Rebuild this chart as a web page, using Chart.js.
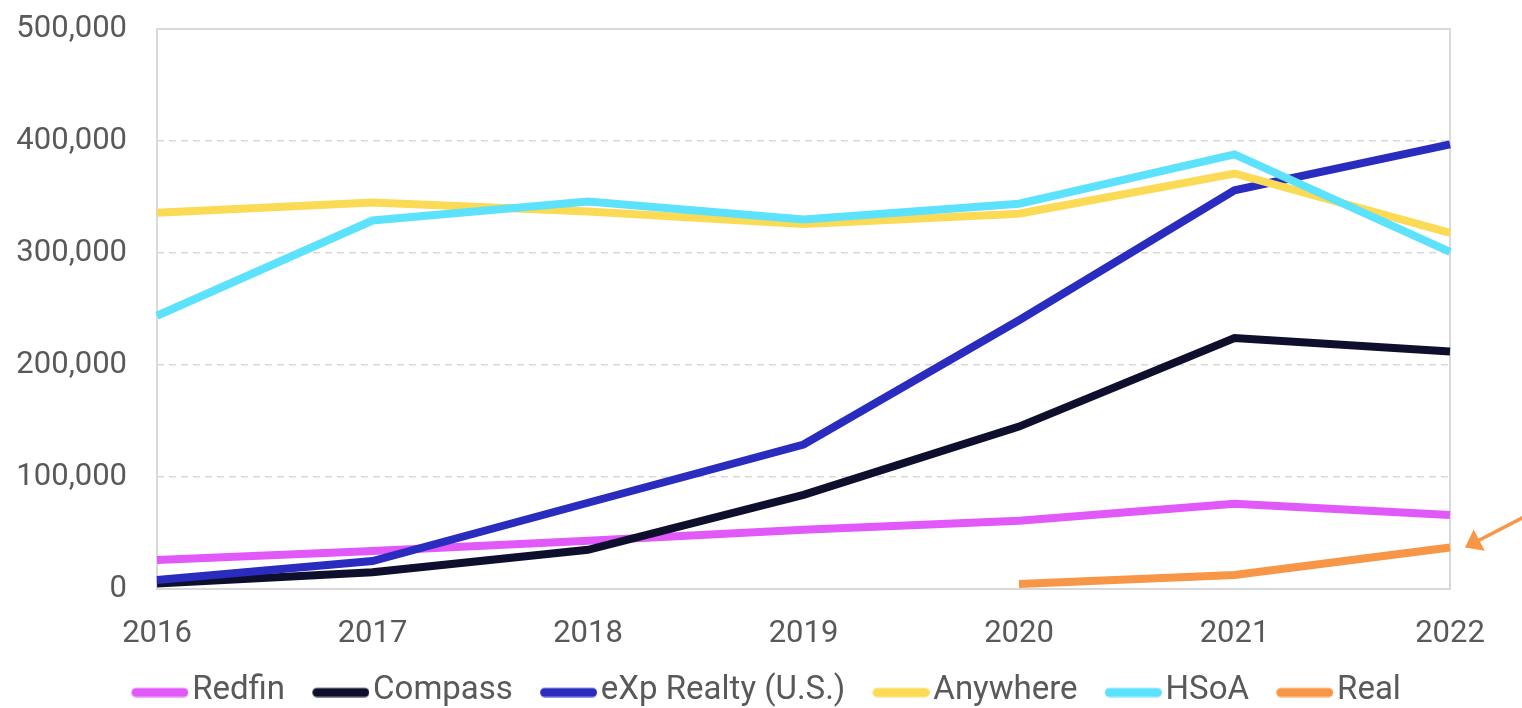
<!DOCTYPE html>
<html>
<head>
<meta charset="utf-8">
<script src="https://cdn.jsdelivr.net/npm/chart.js@4/dist/chart.umd.min.js"></script>
<style>
  html, body { margin: 0; padding: 0; background: #fff; }
  #wrap { width: 1522px; height: 708px; }
</style>
</head>
<body>
<div id="wrap"><canvas id="myChart" width="1522" height="708"></canvas></div>
<script>
'use strict';

const years = ['2016', '2017', '2018', '2019', '2020', '2021', '2022'];
const redfin = [26000, 34000, 43000, 53000, 61000, 76000, 66000];
const compass = [5000, 15000, 35000, 84000, 145000, 224000, 212000];
const exp = [8000, 25000, 77000, 129000, 240000, 356000, 397000];
const anywhere = [336000, 345000, 337000, 326000, 335000, 371000, 318000];
const hsoa = [244000, 329000, 346000, 330000, 344000, 388000, 301000];
const real = [null, null, null, null, 4500, 12500, 37000];
const yTicks = [0, 100000, 200000, 300000, 400000, 500000];

const textColor = '#595959';
const gridColor = '#d9d9d9';

function series(label, data, color, order) {
  return {
    label: label,
    data: data,
    borderColor: color,
    backgroundColor: color,
    borderWidth: 8,
    pointRadius: 0,
    tension: 0,
    fill: false,
    order: order
  };
}

// little rounded bar used as the legend key
function legendKey(color) {
  const cv = document.createElement('canvas');
  cv.width = 70;
  cv.height = 14;
  const c = cv.getContext('2d');
  c.strokeStyle = color;
  c.lineWidth = 9;
  c.lineCap = 'round';
  c.beginPath();
  c.moveTo(17.5, 9);
  c.lineTo(65.5, 9);
  c.stroke();
  return cv;
}

// plot frame around the chart area
const frame = {
  id: 'frame',
  beforeDatasetsDraw(chart) {
    const a = chart.chartArea;
    const c = chart.ctx;
    c.save();
    c.strokeStyle = gridColor;
    c.lineWidth = 2;
    c.setLineDash([]);
    c.strokeRect(a.left, a.top, a.right - a.left, a.bottom - a.top);
    c.restore();
  }
};

// orange arrow pointing at the end of the Real line
const arrow = {
  id: 'arrow',
  afterDraw(chart) {
    const x = chart.scales.x;
    const y = chart.scales.y;
    const last = real.length - 1;
    const tipX = x.getPixelForValue(last) + 15;
    const tipY = y.getPixelForValue(real[last]);
    const dx = 58, dy = -30;
    const len = Math.sqrt(dx * dx + dy * dy);
    const ux = dx / len, uy = dy / len;
    const c = chart.ctx;
    c.save();
    c.strokeStyle = '#f79646';
    c.fillStyle = '#f79646';
    c.lineWidth = 3.5;
    c.beginPath();
    c.moveTo(tipX + ux * 12, tipY + uy * 12);
    c.lineTo(tipX + dx * 1.2, tipY + dy * 1.2);
    c.stroke();
    const bx = tipX + ux * 16, by = tipY + uy * 16;
    c.beginPath();
    c.moveTo(tipX, tipY);
    c.lineTo(bx - uy * 12, by + ux * 12);
    c.lineTo(bx + uy * 12, by - ux * 12);
    c.closePath();
    c.fill();
    c.restore();
  }
};

// nudge the legend row to the right
const legendShift = {
  id: 'legendShift',
  afterLayout(chart) {
    chart.legend.left += 41;
    chart.legend.right += 41;
  }
};

const ctx = document.getElementById('myChart').getContext('2d');

const myChart = new Chart(ctx, {
  type: 'line',
  data: {
    labels: years,
    datasets: [
      series('Redfin', redfin, '#e159f9', 6),
      series('Compass', compass, '#0e0f2c', 5),
      series('eXp Realty (U.S.)', exp, '#2a2bbf', 4),
      series('Anywhere', anywhere, '#fbda55', 3),
      series('HSoA', hsoa, '#5ce2fc', 2),
      series('Real', real, '#f79646', 1)
    ]
  },
  options: {
    responsive: false,
    animation: false,
    layout: { padding: { top: 29, right: 72, bottom: 0, left: 0 } },
    plugins: {
      tooltip: { enabled: false },
      legend: {
        position: 'bottom',
        maxHeight: 61,
        labels: {
          color: textColor,
          font: { family: 'Roboto', size: 33 },
          usePointStyle: true,
          pointStyleWidth: 44.5,
          padding: 27,
          sort: (a, b) => a.datasetIndex - b.datasetIndex,
          generateLabels: chart => Chart.defaults.plugins.legend.labels.generateLabels(chart)
            .map(l => Object.assign(l, { pointStyle: legendKey(l.strokeStyle), lineWidth: 0 }))
        }
      }
    },
    scales: {
      x: {
        offset: false,
        grid: { display: false },
        border: { display: false },
        ticks: {
          color: textColor,
          font: { family: 'Roboto', size: 31 },
          padding: 19,
          maxRotation: 0
        },
        afterFit: s => {
          s.height = 58;
          s.paddingLeft = 0;
          s.paddingRight = 0;
        }
      },
      y: {
        min: 0,
        max: 500000,
        afterBuildTicks: s => { s.ticks = yTicks.map(v => ({ value: v })); },
        grid: {
          color: gridColor,
          lineWidth: 1.5,
          drawTicks: false
        },
        border: { display: false, dash: [7, 5] },
        ticks: {
          color: textColor,
          font: { family: 'Roboto', size: 31 },
          padding: 30,
          callback: v => v.toLocaleString('en-US')
        },
        afterFit: s => {
          s.width = 157;
          s.paddingTop = 0;
          s.paddingBottom = 0;
        }
      }
    }
  },
  plugins: [frame, arrow, legendShift]
});
</script>
</body>
</html>
